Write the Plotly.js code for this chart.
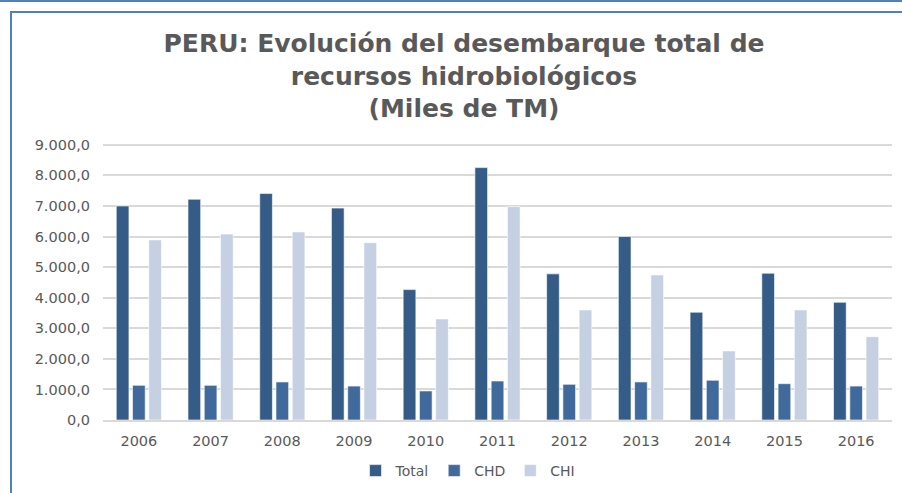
<!DOCTYPE html>
<html>
<head>
<meta charset="utf-8">
<script src="https://cdn.plot.ly/plotly-3.0.1.min.js"></script>
<style>
  html, body { margin: 0; padding: 0; background: #ffffff; }
  #wrap { position: relative; width: 902px; height: 493px; overflow: hidden; }
  #chart { position: absolute; left: 0; top: 0; width: 902px; height: 493px; }
  .frame { position: absolute; background: #4f81bd; pointer-events: none; }
</style>
</head>
<body>
<div id="wrap">
  <div id="chart"></div>
  <div class="frame" style="left:0;top:0;width:902px;height:2px;"></div>
  <div class="frame" style="left:10px;top:11px;width:892px;height:2px;"></div>
  <div class="frame" style="left:10px;top:11px;width:2px;height:482px;"></div>
</div>
<script>
const years = ["2006","2007","2008","2009","2010","2011","2012","2013","2014","2015","2016"];
const total = [7000, 7220, 7410, 6930, 4265, 8255, 4780, 6000, 3525, 4800, 3850];
const chd   = [1135, 1135, 1245, 1110,  950, 1275, 1168, 1245, 1300, 1188, 1110];
const chi   = [5890, 6080, 6150, 5800, 3305, 6980, 3600, 4745, 2258, 3600, 2725];
const yTicks = [0, 1000, 2000, 3000, 4000, 5000, 6000, 7000, 8000, 9000];
const yTickText = ["0,0","1.000,0","2.000,0","3.000,0","4.000,0","5.000,0","6.000,0","7.000,0","8.000,0","9.000,0"];

const barLine = {color: "rgba(255,255,255,0.6)", width: 1};
const traces = [
  {type: "bar", name: "Total", x: years, y: total, marker: {color: "#355b87", line: barLine}},
  {type: "bar", name: "CHD",   x: years, y: chd,   marker: {color: "#416a9c", line: barLine}},
  {type: "bar", name: "CHI",   x: years, y: chi,   marker: {color: "#c5d0e2", line: barLine}}
];

const layout = {
  width: 902, height: 493,
  margin: {l: 103, r: 10, t: 143, b: 73},
  paper_bgcolor: "#ffffff", plot_bgcolor: "#ffffff",
  barmode: "group", bargap: 0.32, bargroupgap: 0.22,
  title: {
    text: "PERU: Evolución del desembarque total de<br>recursos hidrobiológicos<br>(Miles de TM)",
    font: {family: "DejaVu Sans", size: 25, color: "#595959", weight: "bold"},
    x: 464/902, xanchor: "center", xref: "container",
    y: 1 - 52/493, yanchor: "top", yref: "container"
  },
  xaxis: {
    type: "category",
    tickfont: {family: "DejaVu Sans", size: 14.5, color: "#595959"},
    showgrid: false, zeroline: false,
    showline: true, linecolor: "#d9d9d9", linewidth: 2,
    ticks: "", ticklen: 0, ticklabelstandoff: 7, automargin: false
  },
  yaxis: {
    range: [0, 9060],
    tickvals: yTicks, ticktext: yTickText,
    tickfont: {family: "DejaVu Sans", size: 14.5, color: "#595959"},
    showgrid: true, gridcolor: "#d9d9d9", gridwidth: 2,
    zeroline: false, showline: false, ticks: "", ticklabelstandoff: 12, automargin: false
  },
  showlegend: true,
  legend: {
    orientation: "h", x: (468 - 103)/789, xanchor: "center",
    yref: "container", y: (493 - 471)/493, yanchor: "middle",
    font: {family: "DejaVu Sans", size: 14, color: "#595959"},
    itemwidth: 30, traceorder: "normal"
  }
};

Plotly.newPlot("chart", traces, layout, {staticPlot: true, displayModeBar: false});
</script>
</body>
</html>
